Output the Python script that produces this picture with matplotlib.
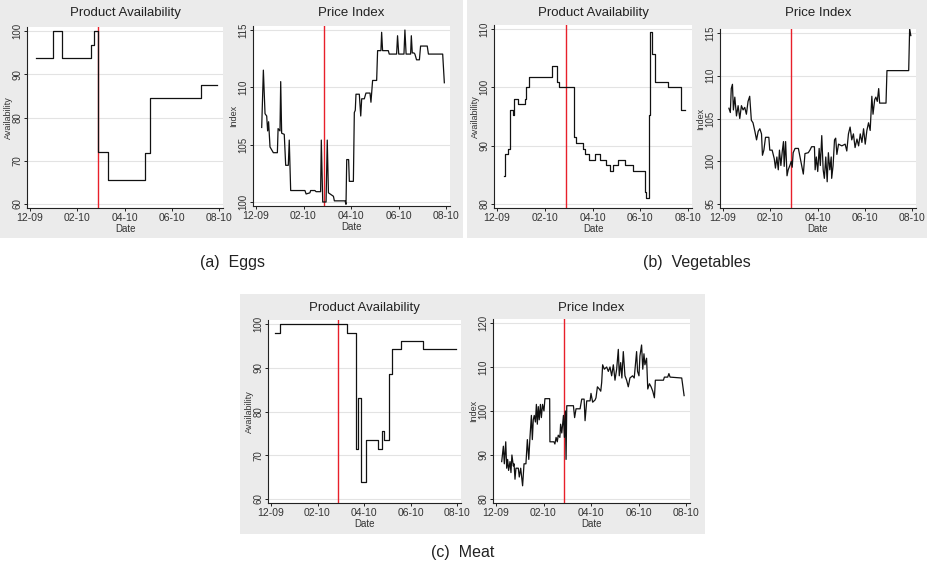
import matplotlib
matplotlib.use("Agg")
import matplotlib.pyplot as plt
from matplotlib.patches import Rectangle
from matplotlib import font_manager as fm

reg = [f for f in fm.fontManager.ttflist if f.name == 'Liberation Sans' and 'Narrow' not in f.fname
       and f.style == 'normal' and f.weight in (400, 'normal')]
if reg:
    fm.fontManager.addfont(reg[0].fname)
plt.rcParams['font.family'] = ['Liberation Sans', 'DejaVu Sans']
plt.rcParams['font.stretch'] = 'normal'

xticks = [0, 2, 4, 6, 8]
xticklabels = ['12-09', '02-10', '04-10', '06-10', '08-10']
quake = 2.88

# Eggs
egg_av_x = [0.25, 0.96, 1.36, 2.57, 2.71, 2.86, 3.30, 4.87, 5.08, 7.23, 7.93]
egg_av_y = [93.7, 100, 93.7, 96.8, 100, 72, 65.5, 71.8, 84.4, 87.4, 87.4]
egg_pr_x = [0.24, 0.31, 0.38, 0.45, 0.49, 0.53, 0.59, 0.73, 0.90, 0.93, 1.01, 1.04, 1.08, 1.19, 1.25, 1.36, 1.40, 1.46,
            2.06, 2.11, 2.27, 2.30, 2.48, 2.53, 2.72, 2.75, 2.81, 2.95, 3.00, 3.05, 3.12, 3.26, 3.30, 3.75, 3.79, 3.82,
            3.90, 3.93, 4.10, 4.14, 4.18, 4.21, 4.35, 4.41, 4.45, 4.56, 4.63, 4.80, 4.84, 4.91, 5.08, 5.12, 5.26, 5.29,
            5.33, 5.57, 5.61, 5.92, 5.96, 6.01, 6.23, 6.27, 6.32, 6.51, 6.54, 6.58, 6.65, 6.69, 6.76, 6.88, 6.93, 7.21,
            7.26, 7.86, 7.93]
egg_pr_y = [106.5, 111.5, 107.7, 107.5, 106.2, 107, 104.8, 104.3, 104.3, 106.4, 106.2, 110.5, 106, 105.9, 103.2, 103.2, 105.4, 101,
            101, 100.7, 100.8, 101, 101, 100.9, 100.9, 105.4, 100, 100, 105.4, 100.8, 100.7, 100.5, 100.1, 100.1, 99.8, 103.7,
            103.7, 101.8, 101.8, 107.8, 108, 109.4, 109.4, 107.5, 109, 109, 109.5, 109.5, 108.7, 110.6, 110.6, 113.2, 113.2, 114.8,
            113.2, 113.2, 112.9, 112.9, 114.5, 112.9, 112.9, 115, 112.9, 112.9, 114.5, 113, 113, 112.9, 112.4, 112.4, 113.6, 113.6,
            112.9, 112.9, 110.4]

# Vegetables
veg_av_x = [0.28, 0.35, 0.46, 0.53, 0.67, 0.71, 0.88, 1.16, 1.23, 1.33, 2.30, 2.53, 2.60, 3.23, 3.30, 3.60, 3.70, 3.84,
            4.09, 4.30, 4.58, 4.75, 4.86, 5.07, 5.38, 5.70, 6.19, 6.26, 6.36, 6.42, 6.51, 6.63, 7.16, 7.72, 7.86]
veg_av_y = [84.8, 88.5, 89.5, 96.2, 95.3, 98, 97.1, 98, 100, 101.8, 103.7, 101, 100, 91.5, 90.5, 89.5, 88.5, 87.5,
            88.5, 87.5, 86.7, 85.7, 86.7, 87.6, 86.7, 85.7, 82, 81, 95.2, 109.5, 105.7, 101, 100, 96.2, 96.2]
veg_pr_x = [0.25, 0.31, 0.35, 0.40, 0.44, 0.50, 0.57, 0.64, 0.71, 0.78, 0.85, 0.92, 0.99, 1.06, 1.13, 1.20, 1.27, 1.35,
            1.42, 1.49, 1.56, 1.63, 1.67, 1.73, 1.80, 1.94, 1.98, 2.08, 2.17, 2.22, 2.28, 2.34, 2.39, 2.45, 2.51, 2.56,
            2.59, 2.65, 2.71, 2.76, 2.83, 2.89, 2.93, 2.97, 3.05, 3.19, 3.26, 3.33, 3.40, 3.47, 3.61, 3.68, 3.75, 3.87,
            3.90, 3.95, 4.01, 4.07, 4.12, 4.18, 4.24, 4.29, 4.35, 4.41, 4.46, 4.52, 4.58, 4.60, 4.66, 4.72, 4.77, 4.82,
            4.89, 5.03, 5.17, 5.24, 5.31, 5.38, 5.45, 5.52, 5.59, 5.67, 5.74, 5.81, 5.88, 5.95, 6.02, 6.09, 6.16, 6.23,
            6.30, 6.35, 6.42, 6.47, 6.53, 6.59, 6.63, 6.90, 6.94, 7.86, 7.90, 7.95]
veg_pr_y = [106.2, 105.7, 108.5, 109, 106, 107.5, 105.3, 106.5, 105, 106.5, 106, 106.3, 105.5, 107, 107.6, 104.8, 104.5, 103.5,
            102.5, 103.5, 103.8, 103.2, 100.7, 101.3, 102.8, 102.8, 101.3, 101.3, 100.3, 99.2, 100.5, 99, 101.3, 99.5, 101.2, 102.3,
            99.4, 102.3, 98.3, 99, 99.5, 100, 99.3, 101, 101.5, 101.5, 100.5, 99.5, 98.5, 100.9, 101, 101.3, 101.7, 101.7,
            99, 100.5, 98.8, 101.5, 99.5, 103, 99, 98, 100.5, 97.6, 101, 99, 100.5, 98, 99.5, 102.5, 102.7, 100.8,
            102, 101.8, 102, 101.2, 103.2, 104, 102.5, 103.2, 101.6, 102.6, 101.8, 103.2, 102.2, 103.8, 102, 103.6, 104.5, 103.6,
            107.6, 105.5, 107.2, 107.5, 107, 108.5, 106.8, 106.8, 110.6, 110.6, 115.5, 114.7]

# Meat
meat_av_x = [0.19, 0.40, 3.29, 3.66, 3.76, 3.86, 4.09, 4.61, 4.76, 4.86, 5.09, 5.19, 5.61, 6.54, 7.97]
meat_av_y = [98, 100, 98, 71.5, 83, 64, 73.5, 71.5, 75.5, 73.5, 88.5, 94.3, 96.2, 94.3, 94.3]
meat_pr_x = [0.24, 0.31, 0.35, 0.41, 0.45, 0.49, 0.53, 0.59, 0.63, 0.67, 0.73, 0.76, 0.80, 0.84, 0.94, 0.98, 1.04, 1.08,
             1.12, 1.18, 1.26, 1.32, 1.38, 1.43, 1.49, 1.53, 1.57, 1.61, 1.66, 1.70, 1.74, 1.78, 1.82, 1.87, 1.91, 1.96,
             2.02, 2.06, 2.20, 2.26, 2.27, 2.44, 2.48, 2.53, 2.58, 2.62, 2.69, 2.72, 2.77, 2.84, 2.88, 2.92, 2.95, 2.98,
             3.26, 3.31, 3.37, 3.54, 3.61, 3.71, 3.75, 3.82, 3.96, 4.00, 4.07, 4.17, 4.21, 4.27, 4.35, 4.41, 4.45, 4.49,
             4.56, 4.66, 4.73, 4.80, 4.87, 4.94, 5.01, 5.08, 5.15, 5.19, 5.25, 5.30, 5.36, 5.43, 5.50, 5.57, 5.64, 5.75,
             5.82, 5.92, 5.96, 6.02, 6.06, 6.13, 6.18, 6.23, 6.27, 6.34, 6.39, 6.46, 6.53, 6.60, 6.67, 6.71, 7.05, 7.09,
             7.23, 7.28, 7.33, 7.82, 7.92]
meat_pr_y = [88.5, 92, 88, 93, 87, 89, 86.5, 88.5, 86, 90, 87.5, 88, 84.5, 87, 87, 85, 87, 85,
             83, 88, 88, 93.5, 89, 94, 99, 93.5, 98, 99, 97.5, 101.5, 97, 101, 98, 101.5, 98.5, 101.5,
             100, 102.8, 102.8, 102.8, 93, 93, 92.5, 94, 93, 94.5, 94, 97, 95, 99, 94, 100, 89, 101.2,
             101.2, 98.5, 100.5, 100.5, 102.7, 102.7, 97.8, 102.3, 102.3, 104, 102, 102.5, 103, 105.5, 105, 104.5, 106.5, 110.5,
             109.5, 110, 109, 110, 108, 110.5, 107, 109.5, 114, 108, 111, 107.5, 113.5, 108, 107, 105.5, 107.5, 108,
             107.5, 113.5, 109, 108, 112.5, 115, 109.5, 113, 110.5, 112, 105, 106.2, 105.5, 104.5, 103, 107, 107, 107.7,
             107.7, 108.5, 107.7, 107.5, 103.5]

W, H = 927, 572
fig = plt.figure(figsize=(W / 100, H / 100), dpi=100)
fig.patch.set_facecolor('white')
BG = '#ebebeb'

for (x, y, w, h) in [(0, 0, 463, 238), (467, 0, 460, 238), (240, 294, 465, 240)]:
    fig.add_artist(Rectangle((x / W, 1 - (y + h) / H), w / W, h / H, transform=fig.transFigure,
                             facecolor=BG, edgecolor='none', zorder=0))


def make_ax(x0, x8, ytop_px, ybot_px, yvals, ylabel, title, title_y, xs, ys, steps):
    ppm = (x8 - x0) / 8.0
    left, right = x0 - 3, x8 + 4
    top, bot = ytop_px - 4, ybot_px + 4
    ax = fig.add_axes([left / W, 1 - bot / H, (right - left) / W, (bot - top) / H])
    yhi, ylo = yvals[-1], yvals[0]
    ppu = (ybot_px - ytop_px) / (yhi - ylo)
    ax.set_xlim(-3 / ppm, 8 + 4 / ppm)
    ax.set_ylim(ylo - 4 / ppu, yhi + 4 / ppu)
    ax.set_facecolor('white')
    for s in ['top', 'right']:
        ax.spines[s].set_visible(False)
    for s in ['left', 'bottom']:
        ax.spines[s].set_linewidth(0.8)
        ax.spines[s].set_color('#222222')
    ax.set_xticks(xticks)
    ax.set_xticklabels(xticklabels, fontsize=7.5, color='#333333')
    ax.set_yticks(yvals)
    ax.set_yticklabels([str(v) for v in yvals], fontsize=7, rotation=90, va='center', color='#333333')
    ax.tick_params(length=2.5, width=0.6, pad=1.0)
    ax.grid(axis='y', color='#e3e3e3', linewidth=0.8)
    ax.set_axisbelow(True)
    ax.set_xlabel('Date', fontsize=7, labelpad=1, color='#333333')
    ax.set_ylabel(ylabel, fontsize=6.5, color='#333333')
    ax.yaxis.set_label_coords(-14.5 / (right - left), 0.5)
    fig.text((left + right) / 2 / W, 1 - title_y / H, title, fontsize=9.5, ha='center', va='center', color='#222222')
    ax.axvline(quake, color='#e8202a', linewidth=1.0, zorder=2)
    ax.plot(xs, ys, color='#111111', linewidth=0.9, drawstyle='steps-post' if steps else 'default', zorder=3)
    return ax


make_ax(30, 219, 31, 204, [60, 70, 80, 90, 100], 'Availability', 'Product Availability', 13, egg_av_x, egg_av_y, True)
make_ax(256, 446, 30, 202, [100, 105, 110, 115], 'Index', 'Price Index', 13, egg_pr_x, egg_pr_y, False)
make_ax(497, 688, 29, 204, [80, 90, 100, 110], 'Availability', 'Product Availability', 13, veg_av_x, veg_av_y, True)
make_ax(723, 912, 33, 204, [95, 100, 105, 110, 115], 'Index', 'Price Index', 13, veg_pr_x, veg_pr_y, False)
make_ax(271, 457, 324, 499, [60, 70, 80, 90, 100], 'Availability', 'Product Availability', 308, meat_av_x, meat_av_y, True)
make_ax(496, 686, 323, 499, [80, 90, 100, 110, 120], 'Index', 'Price Index', 308, meat_pr_x, meat_pr_y, False)

for (cx, cy, t) in [(232, 263, '(a)  Eggs'), (697, 263, '(b)  Vegetables'), (463, 553, '(c)  Meat')]:
    fig.text(cx / W, 1 - cy / H, t, fontsize=11.5, ha='center', va='center', color='#222222')

fig.savefig('out.png', dpi=100, facecolor='white')
